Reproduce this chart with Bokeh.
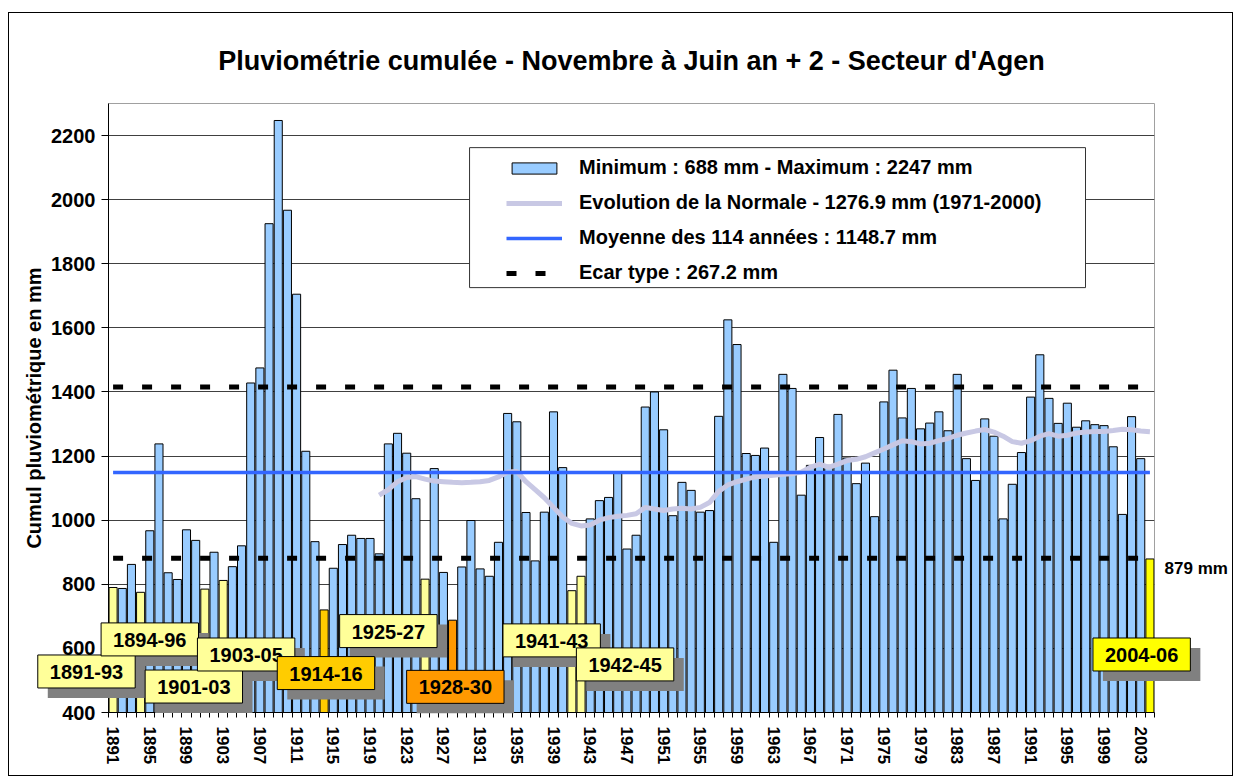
from bokeh.plotting import figure
from bokeh.models import (FixedTicker, Legend, LegendItem, Label, BoxAnnotation,
                          ColumnDataSource, Range1d, BasicTickFormatter)
from bokeh.embed import file_html
from bokeh.resources import INLINE

# ---------------- data ----------------
years = list(range(1891, 2005))
rain = [
    790, 787, 862, 775, 967, 1238, 836, 815, 970, 937,        # 1891-1900
    785, 900, 812, 855, 920, 1428, 1475, 1925, 2247, 1967,    # 1901-1910
    1705, 1215, 933, 720, 850, 924, 953, 943, 943, 895,       # 1911-1920
    1238, 1271, 1209, 1067, 816, 1161, 837, 688, 854, 999,    # 1921-1930
    848, 825, 931, 1333, 1307, 1024, 873, 1025, 1338, 1164,   # 1931-1940
    780, 825, 1004, 1061, 1071, 1149, 910, 953, 1353, 1400,   # 1941-1950
    1282, 1014, 1118, 1093, 1025, 1030, 1324, 1625, 1548, 1208,  # 1951-1960
    1202, 1225, 931, 1455, 1411, 1078, 1171, 1258, 1171, 1330,   # 1961-1970
    1194, 1114, 1178, 1011, 1369, 1468, 1319, 1411, 1285, 1303,  # 1971-1980
    1338, 1279, 1455, 1192, 1124, 1316, 1262, 1004, 1112, 1211,  # 1981-1990
    1384, 1516, 1380, 1302, 1365, 1290, 1310, 1298, 1295, 1229,  # 1991-2000
    1018, 1323, 1192, 879,                                       # 2001-2004
]

normale_years = list(range(1920, 2005))
normale = [
    1078, 1095, 1120, 1133, 1136, 1128, 1122, 1120, 1118, 1117,   # 1920-1929
    1118, 1120, 1124, 1135, 1150, 1152, 1120, 1095, 1070, 1040,   # 1930-1939
    1010, 990, 982, 985, 1000, 1008, 1012, 1015, 1020, 1040,      # 1940-1949
    1035, 1030, 1035, 1037, 1035, 1040, 1055, 1090, 1110, 1120,   # 1950-1959
    1128, 1135, 1138, 1140, 1143, 1145, 1150, 1165, 1175, 1165,   # 1960-1969
    1175, 1186, 1190, 1198, 1210, 1222, 1235, 1248, 1245, 1238,   # 1970-1979
    1240, 1248, 1255, 1265, 1272, 1278, 1283, 1275, 1262, 1245,   # 1980-1989
    1240, 1248, 1262, 1270, 1262, 1265, 1272, 1275, 1277, 1277,   # 1990-1999
    1280, 1284, 1282, 1278, 1276,                                 # 2000-2004
]

moyenne = 1148.7
ecart_type = 267.2
last_value_label = "879 mm"

highlight_years = [1891, 1894, 1901, 1903, 1914, 1925, 1928, 1941, 1942, 2004]
highlight_colors = ["#FFFF99", "#FFFF99", "#FFFF99", "#FFFF99", "#FFCC00",
                    "#FFFF99", "#FF9900", "#FFFF99", "#FFFF99", "#FFFF00"]

period_texts = ["1891-93", "1894-96", "1901-03", "1903-05", "1914-16",
                "1925-27", "1928-30", "1941-43", "1942-45", "2004-06"]
period_colors = ["#FFFF99", "#FFFF99", "#FFFF99", "#FFFF99", "#FFCC00",
                 "#FFFF99", "#FF9900", "#FFFF99", "#FFFF99", "#FFFF00"]
# annotation anchor positions (year axis, mm axis)
period_x = [1888.1, 1895.0, 1899.8, 1905.5, 1914.2, 1921.0, 1928.3, 1938.8, 1946.8, 2003.1]
period_y = [528, 628, 481, 581, 523, 654, 480, 625, 550, 581]

legend_texts = ["Minimum : 688 mm - Maximum : 2247 mm",
                "Evolution de la Normale - 1276.9 mm (1971-2000)",
                "Moyenne des 114 années : 1148.7 mm",
                "Ecar type : 267.2 mm"]

title_text = "Pluviométrie cumulée - Novembre à Juin an + 2 - Secteur d'Agen"
y_label = "Cumul pluviométrique en mm"
y_ticks = list(range(400, 2201, 200))
x_label_years = list(range(1891, 2004, 4))

# ---------------- layout ----------------
FONT = "Liberation Sans"
BAR_BLUE = "#99CCFF"
W, H = 1225, 764
MBL, MBR, MBT, MBB = 99, 80, 90, 65
X0, X1 = years[0] - 0.5, years[-1] + 0.5
Y0, Y1 = 400, 2300

cmap = dict(zip(highlight_years, highlight_colors))
bar_colors = [cmap.get(y, BAR_BLUE) for y in years]
src = ColumnDataSource(dict(x=years, top=rain, color=bar_colors))

p = figure(width=W, height=H,
           x_range=Range1d(X0, X1), y_range=Range1d(Y0, Y1),
           output_backend="svg", toolbar_location=None,
           min_border_left=MBL, min_border_right=MBR,
           min_border_top=MBT, min_border_bottom=MBB,
           title=title_text)
p.styles = {"border": "1px solid black", "margin-left": "8px", "margin-top": "12px"}

p.title.text_font = FONT
p.title.text_font_size = "27px"
p.title.text_font_style = "bold"
p.title.text_color = "black"
p.title.align = "center"
p.title.standoff = 55

p.outline_line_color = "#A0A0A0"
p.xgrid.grid_line_color = None
p.ygrid.grid_line_color = "#404040"
p.ygrid.grid_line_width = 1
p.ygrid.ticker = FixedTicker(ticks=y_ticks)

# axes
p.yaxis.ticker = FixedTicker(ticks=y_ticks)
p.yaxis.axis_line_color = "black"
p.yaxis.major_tick_line_color = "black"
p.yaxis.major_tick_out = 7
p.yaxis.major_tick_in = 0
p.yaxis.minor_tick_line_color = None
p.yaxis.major_label_text_font = FONT
p.yaxis.major_label_text_font_size = "20px"
p.yaxis.major_label_text_font_style = "bold"
p.yaxis.major_label_text_color = "black"
p.yaxis.major_label_standoff = 6
p.yaxis.axis_label = y_label
p.yaxis.axis_label_text_font = FONT
p.yaxis.axis_label_text_font_size = "20px"
p.yaxis.axis_label_text_font_style = "bold"
p.yaxis.axis_label_text_color = "black"
p.yaxis.axis_label_standoff = 3

minor = [y - 0.5 for y in years] + [years[-1] + 0.5]
p.xaxis.ticker = FixedTicker(ticks=x_label_years, minor_ticks=minor)
p.xaxis.formatter = BasicTickFormatter(use_scientific=False)
p.xaxis.axis_line_color = "black"
p.xaxis.major_tick_line_color = None
p.xaxis.major_tick_out = 0
p.xaxis.major_tick_in = 0
p.xaxis.minor_tick_line_color = "black"
p.xaxis.minor_tick_out = 5
p.xaxis.minor_tick_in = 0
p.xaxis.major_label_orientation = "vertical"
p.xaxis.major_label_text_font = FONT
p.xaxis.major_label_text_font_size = "17px"
p.xaxis.major_label_text_font_style = "bold"
p.xaxis.major_label_text_color = "black"
p.xaxis.major_label_standoff = 9

# bars
bars = p.vbar(x="x", top="top", bottom=400, width=0.88, source=src,
              fill_color="color", line_color="black", line_width=1)

# normale
r_norm = p.line(normale_years, normale, line_color="#C8C8E4", line_width=5)
# mean
r_mean = p.line([years[0], years[-1]], [moyenne, moyenne], line_color="#3366FF", line_width=3.5)
# std
r_std = p.line([years[0], years[-1]], [moyenne + ecart_type] * 2, line_color="black",
               line_width=5, line_dash="10 19")
p.line([years[0], years[-1]], [moyenne - ecart_type] * 2, line_color="black",
       line_width=5, line_dash="10 19")

# legend frame
p.add_layout(BoxAnnotation(left=1929.85, right=1996.98, bottom=1725.6, top=2162.3,
                           fill_color="white", fill_alpha=1.0,
                           line_color="#333333", line_width=1, line_alpha=1.0))

legend = Legend(items=[
    LegendItem(label=legend_texts[0], renderers=[bars], index=1),
    LegendItem(label=legend_texts[1], renderers=[r_norm]),
    LegendItem(label=legend_texts[2], renderers=[r_mean]),
    LegendItem(label=legend_texts[3], renderers=[r_std]),
], location=(398, 428), padding=0, margin=0, spacing=12,
    glyph_width=56, glyph_height=14, label_height=14, label_standoff=17,
    border_line_color=None, background_fill_alpha=0,
    label_text_font=FONT, label_text_font_size="20px", label_text_font_style="bold",
    label_text_color="black")
p.add_layout(legend)

# ---------------- transparent overlay (same data scale, covers whole canvas) ----------------
sx = (W - MBL - MBR) / (X1 - X0)
sy = (H - MBT - MBB) / (Y1 - Y0)
ov = figure(width=W, height=H,
            x_range=Range1d(X0 - MBL / sx, X1 + MBR / sx),
            y_range=Range1d(Y0 - MBB / sy, Y1 + MBT / sy),
            x_axis_type=None, y_axis_type=None,
            output_backend="svg", toolbar_location=None,
            min_border=0, min_border_left=0, min_border_right=0,
            min_border_top=0, min_border_bottom=0)
ov.outline_line_color = None
ov.background_fill_color = None
ov.border_fill_color = None
ov.styles = {"position": "absolute", "left": "9px", "top": "13px"}

PAD = dict(left=12, right=12, top=10, bottom=9)
for t, x, y in zip(period_texts, period_x, period_y):
    ov.add_layout(Label(x=x, y=y, text=t, text_align="center", text_baseline="middle",
                        x_offset=10, y_offset=-10,
                        text_font=FONT, text_font_size="20px", text_font_style="bold",
                        text_color="#808080", background_fill_color="#808080",
                        border_line_color=None, padding=PAD))
for t, c, x, y in zip(period_texts, period_colors, period_x, period_y):
    ov.add_layout(Label(x=x, y=y, text=t, text_align="center", text_baseline="middle",
                        text_font=FONT, text_font_size="20px", text_font_style="bold",
                        text_color="black", background_fill_color=c,
                        border_line_color="black", border_line_width=1,
                        padding=PAD))

ov.add_layout(Label(x=years[-1] + 1.6, y=rain[-1] - 30, text=last_value_label,
                    text_align="left", text_baseline="middle", text_color="black",
                    text_font=FONT, text_font_size="17px", text_font_style="bold"))

open("out.html", "w").write(file_html([p, ov], INLINE))
